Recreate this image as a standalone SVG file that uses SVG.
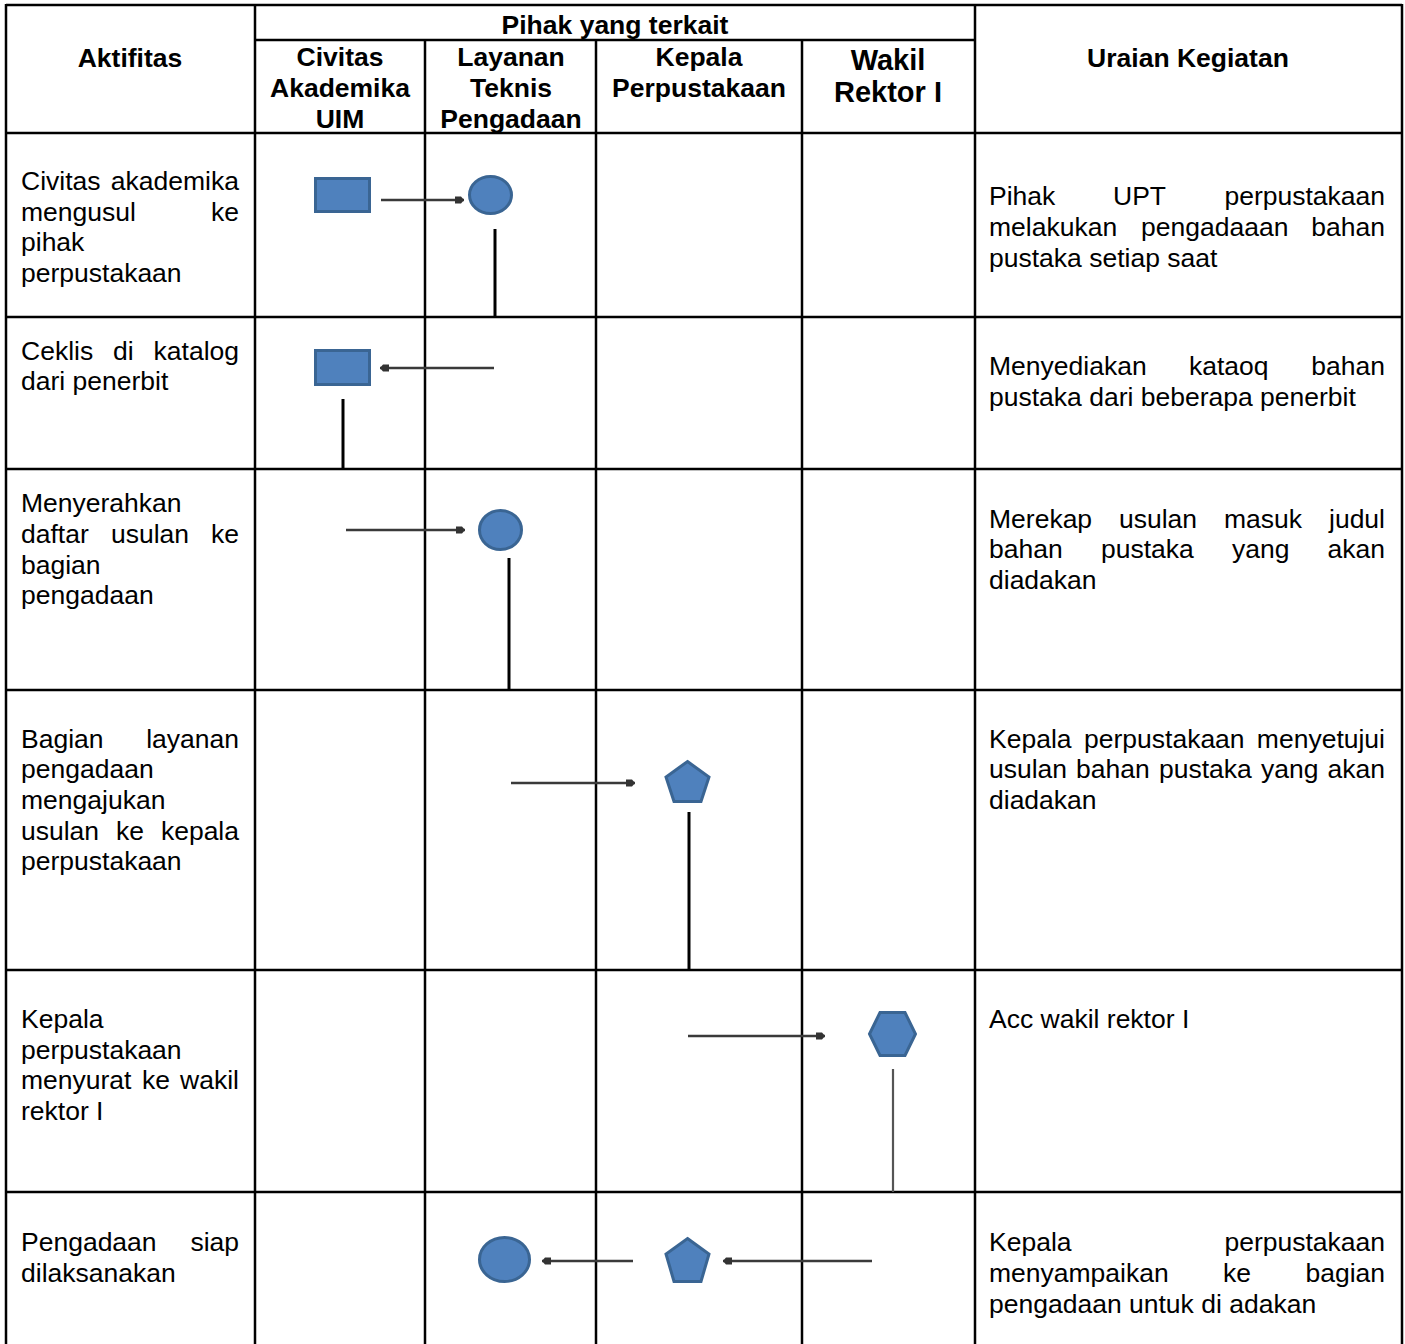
<svg xmlns="http://www.w3.org/2000/svg" width="1405" height="1344" viewBox="0 0 1405 1344">
<style>
.t{font-family:"Liberation Sans",Arial,sans-serif;font-size:26.5px;fill:#000}
.h{font-family:"Liberation Sans",Arial,sans-serif;font-size:26.5px;font-weight:bold;fill:#000;text-anchor:middle}
.e{text-anchor:end}
.m{text-anchor:middle}
.g{stroke:#000;stroke-width:2.5;fill:none}
.s{fill:#4F81BD;stroke:#3A6593;stroke-width:3}
.c{stroke:#3a3a3a;stroke-width:2.5;fill:none}
.a{marker-end:url(#ah)}
.v{stroke:#000;stroke-width:3;fill:none}
</style>
<defs>
<marker id="ah" markerUnits="userSpaceOnUse" markerWidth="10" markerHeight="9" refX="9" refY="4.5" orient="auto">
<path d="M0,1 L6,1 L9,4.5 L6,8 L0,8 Z" fill="#333"/>
</marker>
</defs>
<rect width="1405" height="1344" fill="#fff"/>
<g id="grid">
<line class="g" x1="6" y1="5" x2="1402" y2="5"/>
<line class="g" x1="255" y1="40" x2="975" y2="40"/>
<line class="g" x1="6" y1="133" x2="1402" y2="133"/>
<line class="g" x1="6" y1="317" x2="1402" y2="317"/>
<line class="g" x1="6" y1="469" x2="1402" y2="469"/>
<line class="g" x1="6" y1="690" x2="1402" y2="690"/>
<line class="g" x1="6" y1="970" x2="1402" y2="970"/>
<line class="g" x1="6" y1="1192" x2="1402" y2="1192"/>
<line class="g" x1="6" y1="4" x2="6" y2="1344"/>
<line class="g" x1="255" y1="4" x2="255" y2="1344"/>
<line class="g" x1="425" y1="40" x2="425" y2="1344"/>
<line class="g" x1="596" y1="40" x2="596" y2="1344"/>
<line class="g" x1="802" y1="40" x2="802" y2="1344"/>
<line class="g" x1="975" y1="4" x2="975" y2="1344"/>
<line class="g" x1="1402" y1="4" x2="1402" y2="1344"/>
</g>
<g id="header">
<text class="h" x="130" y="67">Aktifitas</text>
<text class="h" x="615" y="34">Pihak yang terkait</text>
<text class="h" x="340" y="66">Civitas</text>
<text class="h" x="340" y="97">Akademika</text>
<text class="h" x="340" y="128">UIM</text>
<text class="h" x="511" y="66">Layanan</text>
<text class="h" x="511" y="97">Teknis</text>
<text class="h" x="511" y="128">Pengadaan</text>
<text class="h" x="699" y="66">Kepala</text>
<text class="h" x="699" y="97">Perpustakaan</text>
<text class="h" x="888" y="70" style="font-size:29px">Wakil</text>
<text class="h" x="888" y="102" style="font-size:29px">Rektor I</text>
<text class="h" x="1188" y="67">Uraian Kegiatan</text>
</g>
<g id="aktifitas">
<text class="t" x="21" y="190">Civitas</text><text class="t e" x="239" y="190">akademika</text>
<text class="t" x="21" y="221">mengusul</text><text class="t e" x="239" y="221">ke</text>
<text class="t" x="21" y="251">pihak</text>
<text class="t" x="21" y="282">perpustakaan</text>
<text class="t" x="21" y="360">Ceklis</text><text class="t" x="113" y="360">di</text><text class="t e" x="239" y="360">katalog</text>
<text class="t" x="21" y="390">dari penerbit</text>
<text class="t" x="21" y="512">Menyerahkan</text>
<text class="t" x="21" y="543">daftar</text><text class="t" x="111" y="543">usulan</text><text class="t e" x="239" y="543">ke</text>
<text class="t" x="21" y="574">bagian</text>
<text class="t" x="21" y="604">pengadaan</text>
<text class="t" x="21" y="748">Bagian</text><text class="t e" x="239" y="748">layanan</text>
<text class="t" x="21" y="778">pengadaan</text>
<text class="t" x="21" y="809">mengajukan</text>
<text class="t" x="21" y="840">usulan</text><text class="t" x="116" y="840">ke</text><text class="t e" x="239" y="840">kepala</text>
<text class="t" x="21" y="870">perpustakaan</text>
<text class="t" x="21" y="1028">Kepala</text>
<text class="t" x="21" y="1059">perpustakaan</text>
<text class="t" x="21" y="1089">menyurat</text><text class="t" x="142" y="1089">ke</text><text class="t e" x="239" y="1089">wakil</text>
<text class="t" x="21" y="1120">rektor I</text>
<text class="t" x="21" y="1251">Pengadaan</text><text class="t e" x="239" y="1251">siap</text>
<text class="t" x="21" y="1282">dilaksanakan</text>
</g>
<g id="uraian">
<text class="t" x="989" y="205">Pihak</text><text class="t" x="1113" y="205">UPT</text><text class="t e" x="1385" y="205">perpustakaan</text>
<text class="t" x="989" y="236">melakukan</text><text class="t" x="1141" y="236">pengadaaan</text><text class="t e" x="1385" y="236">bahan</text>
<text class="t" x="989" y="267">pustaka setiap saat</text>
<text class="t" x="989" y="375">Menyediakan</text><text class="t" x="1189" y="375">kataoq</text><text class="t e" x="1385" y="375">bahan</text>
<text class="t" x="989" y="406">pustaka dari beberapa penerbit</text>
<text class="t" x="989" y="528">Merekap</text><text class="t" x="1119" y="528">usulan</text><text class="t" x="1224" y="528">masuk</text><text class="t e" x="1385" y="528">judul</text>
<text class="t" x="989" y="558">bahan</text><text class="t" x="1101" y="558">pustaka</text><text class="t" x="1232" y="558">yang</text><text class="t e" x="1385" y="558">akan</text>
<text class="t" x="989" y="589">diadakan</text>
<text class="t" x="989" y="748">Kepala</text><text class="t" x="1084" y="748">perpustakaan</text><text class="t e" x="1385" y="748">menyetujui</text>
<text class="t" x="989" y="778">usulan</text><text class="t" x="1076" y="778">bahan</text><text class="t" x="1159" y="778">pustaka</text><text class="t" x="1261" y="778">yang</text><text class="t e" x="1385" y="778">akan</text>
<text class="t" x="989" y="809">diadakan</text>
<text class="t" x="989" y="1028">Acc wakil rektor I</text>
<text class="t" x="989" y="1251">Kepala</text><text class="t e" x="1385" y="1251">perpustakaan</text>
<text class="t" x="989" y="1282">menyampaikan</text><text class="t" x="1223" y="1282">ke</text><text class="t e" x="1385" y="1282">bagian</text>
<text class="t" x="989" y="1313">pengadaan untuk di adakan</text>
</g>
<g id="connectors">
<line class="c a" x1="381" y1="200" x2="464" y2="200"/>
<line class="v" x1="495" y1="229" x2="495" y2="317"/>
<line class="c a" x1="494" y1="368" x2="380" y2="368"/>
<line class="v" x1="343" y1="399" x2="343" y2="469"/>
<line class="c a" x1="346" y1="530" x2="465" y2="530"/>
<line class="v" x1="509" y1="558" x2="509" y2="690"/>
<line class="c a" x1="511" y1="783" x2="635" y2="783"/>
<line class="v" x1="689" y1="812" x2="689" y2="970"/>
<line class="c a" x1="688" y1="1036" x2="825" y2="1036"/>
<line class="c" x1="893" y1="1069" x2="893" y2="1192" style="stroke:#555;stroke-width:2.2"/>
<line class="c a" x1="633" y1="1261" x2="542" y2="1261"/>
<line class="c a" x1="872" y1="1261" x2="723" y2="1261"/>
</g>
<g id="n1"><rect class="s" x="315.5" y="178.5" width="54" height="33"/></g>
<g id="n2"><ellipse class="s" cx="490.5" cy="195" rx="21" ry="18.5"/></g>
<g id="n3"><rect class="s" x="315.5" y="350.5" width="54" height="34"/></g>
<g id="n4"><ellipse class="s" cx="500.5" cy="530" rx="21" ry="19.5"/></g>
<g id="n5"><polygon class="s" points="687.5,761.5 709,777 701,801.5 674,801.5 666,777"/></g>
<g id="n6"><polygon class="s" points="869.5,1034 880,1012.5 905,1012.5 915.5,1034 905,1055.5 880,1055.5"/></g>
<g id="n7"><ellipse class="s" cx="504.5" cy="1259.5" rx="25" ry="22"/></g>
<g id="n8"><polygon class="s" points="687.5,1238.5 709,1254 701,1281.5 674,1281.5 666,1254"/></g>
</svg>
